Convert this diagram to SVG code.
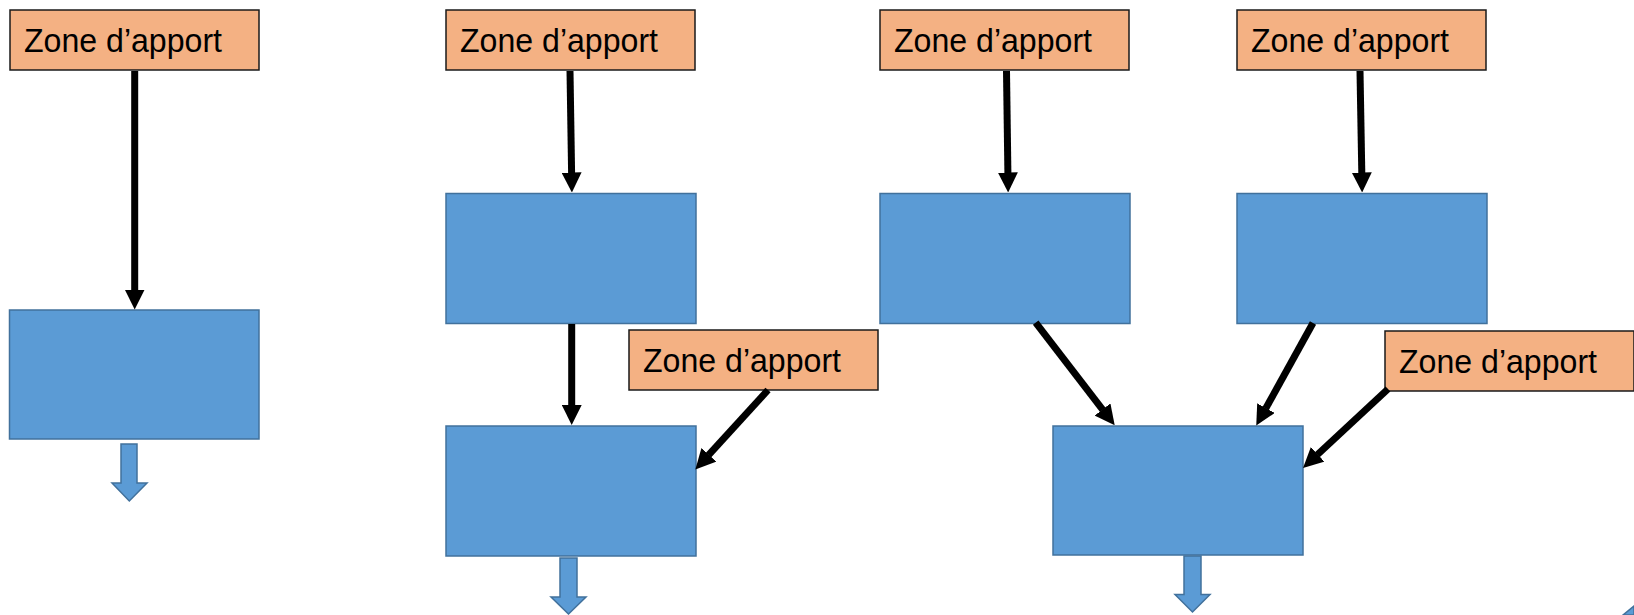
<svg xmlns="http://www.w3.org/2000/svg" width="1634" height="615" viewBox="0 0 1634 615">
  <defs>
    <style>
      .zone { fill: #F4B183; stroke: #1a1a1a; stroke-width: 1.5; }
      .zone-text { font-family: "Liberation Sans", Arial, sans-serif; font-size: 33px; fill: #000; }
      .block { fill: #5B9BD5; stroke: #41719C; stroke-width: 1.5; }
      .flow { stroke: #000; stroke-width: 7; fill: none; marker-end: url(#head); }
      .out { fill: #5B9BD5; stroke: #41719C; stroke-width: 1.5; }
    </style>
    <marker id="head" markerUnits="userSpaceOnUse" viewBox="0 -10 20 20" refX="0.5" refY="0" markerWidth="20" markerHeight="20" orient="auto">
      <path d="M0,-10 L20,0 L0,10 z" fill="#000"/>
    </marker>
  </defs>

  <rect width="1634" height="615" fill="#fff"/>

  <!-- supply zones -->
  <g id="zone-1"><rect class="zone" x="10" y="10" width="249" height="60"/><text class="zone-text" x="24" y="52" textLength="198" lengthAdjust="spacingAndGlyphs">Zone d’apport</text></g>
  <g id="zone-2"><rect class="zone" x="446" y="10" width="249" height="60"/><text class="zone-text" x="460" y="52" textLength="198" lengthAdjust="spacingAndGlyphs">Zone d’apport</text></g>
  <g id="zone-3"><rect class="zone" x="880" y="10" width="249" height="60"/><text class="zone-text" x="894" y="52" textLength="198" lengthAdjust="spacingAndGlyphs">Zone d’apport</text></g>
  <g id="zone-4"><rect class="zone" x="1237" y="10" width="249" height="60"/><text class="zone-text" x="1251" y="52" textLength="198" lengthAdjust="spacingAndGlyphs">Zone d’apport</text></g>
  <g id="zone-5"><rect class="zone" x="629" y="330" width="249" height="60"/><text class="zone-text" x="643" y="372" textLength="198" lengthAdjust="spacingAndGlyphs">Zone d’apport</text></g>
  <g id="zone-6"><rect class="zone" x="1385" y="331" width="249" height="60"/><text class="zone-text" x="1399" y="373" textLength="198" lengthAdjust="spacingAndGlyphs">Zone d’apport</text></g>

  <!-- blocks -->
  <g id="block-1"><rect class="block" x="9.5" y="310" width="249.5" height="129"/></g>
  <g id="block-2"><rect class="block" x="446" y="193.5" width="250" height="130"/></g>
  <g id="block-3"><rect class="block" x="446" y="426" width="250" height="130"/></g>
  <g id="block-4"><rect class="block" x="880" y="193.5" width="250" height="130"/></g>
  <g id="block-5"><rect class="block" x="1237" y="193.5" width="250" height="130"/></g>
  <g id="block-6"><rect class="block" x="1053" y="426" width="250" height="129"/></g>

  <!-- outflow arrows -->
  <g id="outflow-1"><polygon class="out" points="121,444 137,444 137,483 147,483 129.3,501 112,483 121,483"/></g>
  <g id="outflow-2"><polygon class="out" points="560,558 577,558 577,597 586,597 568.5,614 551,597 560,597"/></g>
  <g id="outflow-3"><polygon class="out" points="1184,556 1201,556 1201,594.5 1210,594.5 1192.5,612 1175,594.5 1184,594.5"/></g>
  <g id="outflow-edge"><polygon class="out" points="1634,606 1634,615 1623,615"/></g>

  <!-- connectors (each ends at the base of its arrowhead) -->
  <g id="connectors">
    <line class="flow" x1="134.7" y1="71" x2="134.7" y2="290"/>
    <line class="flow" x1="570" y1="71" x2="571.6" y2="173"/>
    <line class="flow" x1="571.7" y1="324" x2="571.7" y2="405.5"/>
    <line class="flow" x1="768" y1="390" x2="708.5" y2="455.2"/>
    <line class="flow" x1="1006.5" y1="71" x2="1007.9" y2="173"/>
    <line class="flow" x1="1360" y1="71" x2="1361.8" y2="173"/>
    <line class="flow" x1="1035.7" y1="322.7" x2="1102.8" y2="409.9"/>
    <line class="flow" x1="1313" y1="323" x2="1265.7" y2="408.5"/>
    <line class="flow" x1="1388" y1="389" x2="1317.3" y2="454.7"/>
  </g>
</svg>
